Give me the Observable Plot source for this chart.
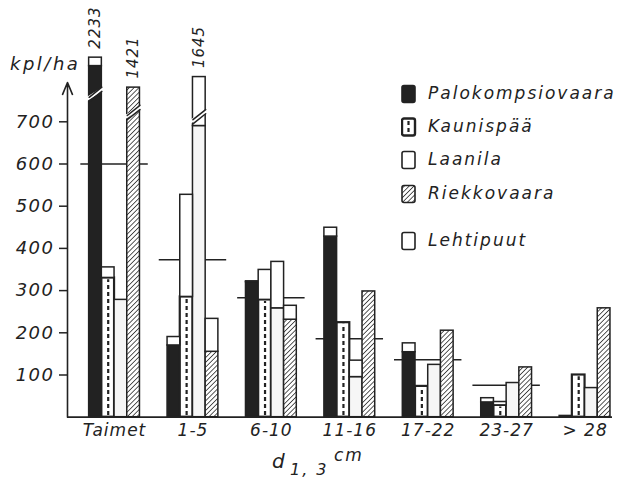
<!DOCTYPE html>
<html><head><meta charset="utf-8">
<script src="https://cdn.jsdelivr.net/npm/d3@7"></script>
<script src="https://cdn.jsdelivr.net/npm/@observablehq/plot@0.6"></script>
<style>
body{margin:0;background:#fff;}
#wrap{position:relative;width:624px;height:482px;font-family:"DejaVu Sans",sans-serif;font-style:oblique;color:#222;overflow:hidden;}
.sw{position:absolute;left:401px;}
.lt{position:absolute;left:428px;font-size:17px;letter-spacing:2px;line-height:1.2;white-space:nowrap;}
.ax{position:absolute;line-height:1.2;white-space:nowrap;}
</style></head><body><div id="wrap"></div>
<script>
// ---- data ----
const groups = ["Taimet", "1-5", "6-10", "11-16", "17-22", "23-27", "> 28"];
const series = ["Palokompsiovaara", "Kaunispää", "Laanila", "Riekkovaara"];
const deciduousLabel = "Lehtipuut";
// coniferous part (bottom segment), stems per ha
const paloConifer   = [2213, 170, 320, 428, 154, 35, 3];
const kauniConifer  = [330, 285, 278, 224, 73, 28, 100];
const laaniConifer  = [278, 690, 258, 95, 124, 81, 69];
const riekkoConifer = [1421, 155, 231, 298, 205, 118, 258];
// totals incl. deciduous (Lehtipuut) on top
const paloTotal   = [2233, 190, 322, 449, 175, 45, 3];
const kauniTotal  = [355, 527, 349, 224, 73, 36, 100];
const laaniTotal  = [278, 1645, 368, 134, 124, 81, 69];
const riekkoTotal = [1421, 233, 264, 298, 205, 118, 258];
// horizontal reference line per class
const refLine = [600, 373, 283, 186, 136, 76, null];
const yTicks = [100, 200, 300, 400, 500, 600, 700];
// broken bars: value level where drawn bar ends and where the break sits
const brokenGroup = ["Taimet", "Taimet", "1-5"];
const brokenSeries = ["Palokompsiovaara", "Riekkovaara", "Laanila"];
const brokenShownTop = [852, 781, 806];
const brokenBreakAt = [765, 722, 712];
const xTitle = ["d", "1, 3", "cm"];
const yTitle = "kpl/ha";

// ---- build table ----
const conifers = [paloConifer, kauniConifer, laaniConifer, riekkoConifer];
const totals = [paloTotal, kauniTotal, laaniTotal, riekkoTotal];
const W = 0.162;          // bar width in x units
const xMin = -0.6, xMax = 6.35;
const ink = "#222";
const rows = [];
groups.forEach((g, gi) => series.forEach((s, si) => {
  const k = brokenGroup.findIndex((bg, j) => bg === g && brokenSeries[j] === s);
  const con = conifers[si][gi], tot = totals[si][gi];
  let shownTot = tot, shownCon = con;
  if (k >= 0) {
    shownTot = brokenShownTop[k];
    shownCon = con > brokenBreakAt[k] ? shownTot - (tot - con) : con;
  }
  rows.push({g, gi, s, si, x1: gi + (si - 2) * W, x2: gi + (si - 1) * W, xc: gi + (si - 1.5) * W,
             con, tot, shownCon, shownTot, k, breakAt: k >= 0 ? brokenBreakAt[k] : null});
}));
const brokenRows = rows.filter(r => r.k >= 0);
// break geometry (slanted gap)
const slant = 12, gap = 5, eps = 0.02;
const breakPts = brokenRows.flatMap(r => [
  {id: r.k, x: r.x1 - eps, lo: r.breakAt - slant - gap, hi: r.breakAt - slant + gap},
  {id: r.k, x: r.x2 + eps, lo: r.breakAt + slant - gap, hi: r.breakAt + slant + gap}
]);
const breakEdgePts = brokenRows.flatMap(r => [
  {id: r.k + "a", x: r.x1, y: r.breakAt - slant - gap}, {id: r.k + "a", x: r.x2, y: r.breakAt + slant - gap},
  {id: r.k + "b", x: r.x1, y: r.breakAt - slant + gap}, {id: r.k + "b", x: r.x2, y: r.breakAt + slant + gap}
]);
const refRows = refLine.map((v, gi) => ({gi, v})).filter(d => d.v != null);

const fills = [ink, "white", "#f6f6f6", "url(#hatch)"];

const marks = [
  Plot.ruleY(refRows, {x1: d => d.gi - 0.43, x2: d => d.gi + 0.43, y: "v", stroke: ink, strokeWidth: 1.5}),
  ...series.map((s, si) => Plot.rect(rows.filter(r => r.si === si && r.shownCon > 0),
      {x1: "x1", x2: "x2", y1: d => 0, y2: "shownCon", fill: fills[si], stroke: ink, strokeWidth: si === 1 ? 2.2 : 1.5})),
  Plot.ruleX(rows.filter(r => r.si === 1 && r.shownCon > 8),
      {x: "xc", y1: d => 4, y2: d => d.shownCon - 4, stroke: ink, strokeWidth: 2.2, strokeDasharray: "4,3"}),
  Plot.rect(rows.filter(r => r.shownTot > r.shownCon),
      {x1: "x1", x2: "x2", y1: "shownCon", y2: "shownTot", fill: "white", stroke: ink, strokeWidth: 1.5}),
  Plot.areaY(breakPts, {x: "x", y1: "lo", y2: "hi", z: "id", fill: "white", curve: "linear"}),
  Plot.line(breakEdgePts, {x: "x", y: "y", z: "id", stroke: ink, strokeWidth: 1.5}),
  Plot.text(brokenRows, {x: "xc", y: "shownTot", text: d => String(d.tot), rotate: -90, textAnchor: "start",
      dy: -9, fontSize: 15, fill: ink}),
  Plot.ruleY([0], {stroke: ink, strokeWidth: 1.8}),
  Plot.arrow([0], {x1: d => xMin, x2: d => xMin, y1: d => 0, y2: d => 793, stroke: ink, strokeWidth: 1.6,
      headLength: 12, headAngle: 45}),
  Plot.axisY({ticks: yTicks, tickSize: 8, tickPadding: 5, label: null, strokeWidth: 1.5, fontSize: 18,
      letterSpacing: "1.5px"}),
  Plot.axisX({ticks: d3.range(groups.length), tickFormat: i => groups[i], tickSize: 0, tickPadding: 7,
      label: null, fontSize: 17})
];

const svg = Plot.plot({
  width: 624, height: 482,
  marginLeft: 67, marginRight: 12, marginTop: 58, marginBottom: 65.3,
  x: {domain: [xMin, xMax]},
  y: {domain: [0, 850]},
  style: {fontFamily: "'DejaVu Sans', sans-serif", fontStyle: "oblique", color: ink, letterSpacing: "1px", background: "white"},
  marks
});
// y tick labels a bit wider spaced, like the lettering of the original
d3.select(svg).selectAll("[aria-label='y-axis tick label'] text").style("letter-spacing", "1.5px");
// patterns
const defs = d3.select(svg).insert("defs", ":first-child");
const hp = defs.append("pattern").attr("id", "hatch").attr("patternUnits", "userSpaceOnUse")
  .attr("width", 3.4).attr("height", 3.4).attr("patternTransform", "rotate(45)");
hp.append("rect").attr("width", 3.4).attr("height", 3.4).attr("fill", "white");
hp.append("line").attr("x1", 0).attr("y1", 0).attr("x2", 0).attr("y2", 3.4).attr("stroke", ink).attr("stroke-width", 1.5);

const wrap = document.getElementById("wrap");
wrap.appendChild(svg);
svg.style.position = "absolute"; svg.style.left = "0"; svg.style.top = "0";

// legend
const legendItems = [...series, deciduousLabel];
const legendFill = [ink, "white", "white", "url(#hatch)", "white"];
const legendY = [94, 127, 160, 194, 241];
legendItems.forEach((name, i) => {
  const sw = document.createElementNS("http://www.w3.org/2000/svg", "svg");
  sw.setAttribute("width", 16); sw.setAttribute("height", 20);
  sw.setAttribute("class", "sw");
  sw.style.top = (legendY[i] - 10) + "px";
  sw.innerHTML = `<rect x="1" y="1.5" width="13" height="17" rx="2" fill="${legendFill[i]}" stroke="${ink}" stroke-width="${i === 1 ? 2.4 : 1.6}"/>` +
    (i === 1 ? `<line x1="7.5" y1="4" x2="7.5" y2="17" stroke="${ink}" stroke-width="2.2" stroke-dasharray="4,3"/>` : "");
  wrap.appendChild(sw);
  const t = document.createElement("div");
  t.className = "lt"; t.textContent = name; t.style.top = (legendY[i] - 11) + "px";
  wrap.appendChild(t);
});
// axis titles
function addText(txt, left, top, size, ls) {
  const d = document.createElement("div");
  d.className = "ax"; d.textContent = txt;
  d.style.left = left + "px"; d.style.top = top + "px"; d.style.fontSize = size + "px"; d.style.letterSpacing = ls + "px";
  wrap.appendChild(d);
}
addText(yTitle, 10, 53, 18, 2.5);
addText(xTitle[0], 272, 449, 20, 1);
addText(xTitle[1], 290, 460, 16, 2);
addText(xTitle[2], 334, 445, 17, 2);
</script></body></html>
